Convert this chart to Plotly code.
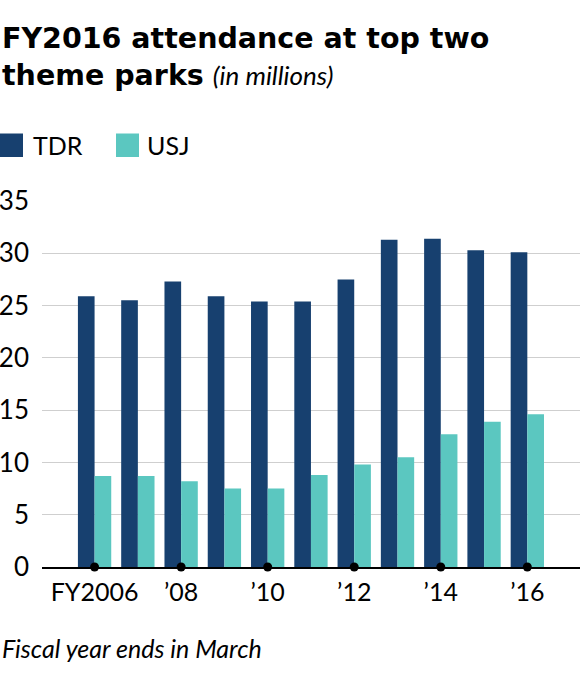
import plotly.graph_objects as go

# FY attendance, millions
years = [2006, 2007, 2008, 2009, 2010, 2011, 2012, 2013, 2014, 2015, 2016]
tdr = [25.9, 25.5, 27.3, 25.9, 25.4, 25.4, 27.5, 31.3, 31.4, 30.3, 30.1]
usj = [8.7, 8.7, 8.2, 7.5, 7.5, 8.8, 9.8, 10.5, 12.7, 13.9, 14.6]

tick_years = [2006, 2008, 2010, 2012, 2014, 2016]
tick_labels = ["FY2006", "\u201908", "\u201910", "\u201912", "\u201914", "\u201916"]
y_ticks = [0, 5, 10, 15, 20, 25, 30, 35]

TDR_COLOR = "#17406f"
USJ_COLOR = "#5bc7c0"
FONT = "Lato"
TITLE_FONT = "DejaVu Sans"

W, H = 580, 679
ML, MR, MT, MB = 42, 0, 201, 112


def px_x(px):
    return (px - ML) / (W - ML - MR)


def px_y(py):
    return (H - MB - py) / (H - MT - MB)


fig = go.Figure()
fig.add_trace(go.Bar(x=years, y=tdr, name="TDR", marker_color=TDR_COLOR,
                     marker_line_width=0, showlegend=False))
fig.add_trace(go.Bar(x=years, y=usj, name="USJ", marker_color=USJ_COLOR,
                     marker_line_width=0, showlegend=False))
fig.add_trace(go.Scatter(x=tick_years, y=[0] * len(tick_years), mode="markers",
                         marker=dict(color="black", size=9), cliponaxis=False,
                         showlegend=False, hoverinfo="skip"))

fig.update_layout(
    width=W, height=H,
    margin=dict(l=ML, r=MR, t=MT, b=MB),
    paper_bgcolor="white", plot_bgcolor="white",
    barmode="group", bargap=0.23, bargroupgap=0,
    font=dict(family=FONT, color="black"),
)
fig.update_xaxes(
    range=[2004.785, 2017.217], tickvals=tick_years, ticktext=tick_labels,
    showgrid=False, zeroline=False, showline=True, linecolor="black",
    linewidth=2, ticks="outside", ticklen=2, tickcolor="rgba(0,0,0,0)",
    tickfont=dict(size=25, family=FONT),
)
fig.update_yaxes(
    range=[0, 35], tickvals=y_ticks, showgrid=True, gridcolor="#cfcfcf",
    gridwidth=1.2, zeroline=False, showline=False, ticks="",
    ticklabelstandoff=12, tickfont=dict(size=26, family=FONT),
)

# title
fig.add_annotation(
    xref="paper", yref="paper", x=px_x(0), y=px_y(20), xanchor="left", yanchor="top",
    align="left", showarrow=False,
    text="<b>FY2016 attendance at top two<br>theme parks</b> "
         "<span style='font-family:Lato;font-size:26px'><i>(in millions)</i></span>",
    font=dict(size=28.5, family=TITLE_FONT),
)

# legend keys
for name, color, x0, tx in [("TDR", TDR_COLOR, 0, 31), ("USJ", USJ_COLOR, 116, 145)]:
    fig.add_shape(type="rect", xref="paper", yref="paper",
                  x0=px_x(x0), x1=px_x(x0 + 23), y0=px_y(157), y1=px_y(133.5),
                  fillcolor=color, line_width=0)
    fig.add_annotation(xref="paper", yref="paper", x=px_x(tx), y=px_y(145),
                       xanchor="left", yanchor="middle", showarrow=False,
                       text=name, font=dict(size=25, family=FONT))

# footnote
fig.add_annotation(
    xref="paper", yref="paper", x=px_x(0), y=px_y(631), xanchor="left", yanchor="top",
    showarrow=False, text="<i>Fiscal year ends in March</i>",
    font=dict(size=25, family=FONT),
)

fig.write_html("out.html", config={"displayModeBar": False},
               post_script="document.body.style.margin='0';")
